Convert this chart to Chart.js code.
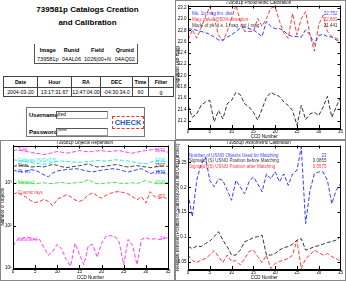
<!DOCTYPE html>
<html>
<head>
<meta charset="utf-8">
<script src="https://cdn.jsdelivr.net/npm/chart.js@4.4.1/dist/chart.umd.min.js"></script>
<style>
	body { margin: 0; width: 346px; height: 281px; background: #fff; overflow: hidden; position: relative; font-family: "Liberation Sans", Arial, sans-serif; color: #000; }
	.panel { position: absolute; box-sizing: border-box; border: 1px solid #888; }
	.panel canvas { display: block; }
	#info { position: absolute; left: 0; top: 0; width: 175px; height: 140px; }
	#info .title { position: absolute; left: 0; top: 3px; width: 175px; text-align: center; font: bold 8px/13px "Liberation Sans", Arial, sans-serif; }
	#info table { position: absolute; border-collapse: collapse; table-layout: fixed; }
	#info th, #info td { padding: 0; text-align: center; white-space: nowrap; overflow: hidden; }
	#run-table { left: 34px; top: 44px; width: 103px; border: 1px solid #555; border-top: none; font-size: 5.5px; }
	#run-table tr.head { height: 11px; }
	#run-table tr.vals { height: 8px; }
	#obs-table { left: 3px; top: 76px; width: 170px; font-size: 5.2px; }
	#obs-table th, #obs-table td { border: 1px solid #444; }
	#obs-table tr.head { height: 11px; }
	#obs-table tr.vals { height: 9px; }
	#login { position: absolute; left: 26px; top: 107px; width: 119px; height: 30px; box-sizing: border-box; border: 1px solid #777; }
	#login .lbl { position: absolute; left: 2px; font: bold 6px/8px "Liberation Sans", Arial, sans-serif; }
	#login .inp { position: absolute; left: 29px; width: 52px; height: 8px; box-sizing: border-box; border: 1px solid #999; border-top-color: #555; border-left-color: #555; font-size: 4.5px; line-height: 6px; padding-left: 1px; }
	#check { position: absolute; left: 85px; top: 8px; width: 32px; height: 13px; box-sizing: border-box; border: 1px dashed #e33; color: #2a5cc0; font: bold 7.5px/11px "Liberation Sans", Arial, sans-serif; text-align: center; }
</style>
</head>
<body>
<div id="info">
	<div class="title">739581p Catalogs Creation<br>and Calibration</div>
	<table id="run-table">
		<colgroup><col style="width:26px"><col style="width:22px"><col style="width:30px"><col style="width:25px"></colgroup>
		<tr class="head"><th>Image</th><th>Runid</th><th>Field</th><th>Qrunid</th></tr>
		<tr class="vals"><td>739581p</td><td>04AL06</td><td>1026|00+N</td><td>04AQ02</td></tr>
	</table>
	<table id="obs-table">
		<colgroup><col style="width:34px"><col style="width:34px"><col style="width:29px"><col style="width:32px"><col style="width:16px"><col style="width:25px"></colgroup>
		<tr class="head"><th>Date</th><th>Hour</th><th>RA</th><th>DEC</th><th>Time</th><th>Filter</th></tr>
		<tr class="vals"><td>2004-03-20</td><td>13:17:31.67</td><td>12:47:04.00</td><td>-04:30:34.0</td><td>60</td><td>g</td></tr>
	</table>
	<div id="login">
		<div class="lbl" style="top:3px">Username</div>
		<div class="inp" style="top:3px">fred</div>
		<div class="lbl" style="top:20px">Password</div>
		<div class="inp" style="top:20px">*****</div>
		<div id="check">CHECK</div>
	</div>
</div>

<div class="panel" style="left:175px; top:0; width:171px; height:140px;"><canvas id="chart-photo" width="169" height="138"></canvas></div>
<div class="panel" style="left:0; top:140px; width:175px; height:141px;"><canvas id="chart-objects" width="173" height="139"></canvas></div>
<div class="panel" style="left:175px; top:140px; width:171px; height:141px;"><canvas id="chart-astro" width="169" height="139"></canvas></div>

<script>
// CCD number on every x axis
const ccdNumbers = [0, 1, 2, 3, 4, 5, 6, 7, 8, 9, 10, 11, 12, 13, 14, 15, 16, 17, 18, 19, 20, 21, 22, 23, 24, 25, 26, 27, 28, 29, 30, 31, 32, 33, 34, 35];
const ccdTicks = [0, 5, 10, 15, 20, 25, 30, 35];

// photometric calibration (mag)
const magLimitMedian = [22.83, 22.82, 22.80, 22.78, 22.76, 22.73, 22.68, 22.63, 22.63, 22.68, 22.72, 22.78, 22.84, 22.85, 22.83, 22.81, 22.75, 22.69, 22.96, 22.87, 22.83, 22.83, 22.79, 22.72, 22.69, 22.69, 22.68, 22.81, 22.72, 22.55, 22.71, 22.73, 22.69, 22.68, 22.63, 22.61];
const magDetect50 = [22.63, 22.81, 22.66, 22.84, 23.04, 23.22, 23.01, 22.72, 22.61, 22.78, 23.01, 23.25, 22.96, 22.78, 22.78, 22.78, 23.01, 22.87, 23.01, 23.19, 23.22, 22.96, 22.75, 22.66, 23.10, 22.72, 23.01, 23.13, 22.72, 22.43, 22.90, 23.07, 22.78, 22.69, 22.66, 22.61];
const magPeakMode = [21.47, 21.26, 21.32, 21.47, 21.53, 21.56, 21.18, 21.38, 21.23, 21.50, 21.56, 21.70, 21.66, 21.50, 21.44, 21.35, 21.21, 21.41, 21.61, 21.70, 21.66, 21.63, 21.53, 21.47, 21.38, 21.12, 21.47, 21.22, 21.32, 21.35, 21.29, 21.44, 21.63, 21.26, 21.44, 21.61];
const magTicks = [21.2, 21.4, 21.6, 21.8, 22.0, 22.2, 22.4, 22.6, 22.8, 23.0, 23.2];
const photoLabels = ['Mu. 1\u03c3 mag lim. dist', 'Mag. value @50% detection', 'Mode of pk. (i.e. 1 mag. cut.) mag'];
const photoStats = ['22.752', '22.869', '21.441'];

// objects repartition (counts per CCD)
const countTotal = [5850, 6070, 5850, 5550, 5350, 5070, 4900, 4720, 4900, 5260, 5550, 5350, 5070, 5260, 5550, 5850, 5650, 5450, 5550, 5750, 5850, 5650, 5550, 5750, 5850, 5550, 5260, 5070, 5350, 5650, 5850, 6070, 6180, 5960, 5750, 5350];
const countGalaxies = [3550, 3430, 3310, 3190, 3080, 2970, 2870, 2770, 2870, 3080, 3250, 3310, 3250, 3190, 3140, 3080, 3140, 3190, 3310, 3430, 3370, 3310, 3430, 3550, 3490, 3430, 3310, 3190, 3030, 2920, 2870, 3080, 3310, 3430, 3310, 3140];
const countStars = [2480, 2580, 2620, 2530, 2400, 2440, 2480, 2400, 2580, 2770, 2620, 2440, 2310, 2400, 2480, 2580, 2670, 2870, 2580, 2400, 2440, 2530, 2620, 2720, 2670, 2480, 2400, 2480, 2580, 2480, 2400, 2310, 2400, 2480, 2530, 2480];
const countPointLike = [2006, 1900, 1835, 1935, 2080, 2006, 1800, 1565, 1405, 1740, 1935, 2006, 2080, 2120, 2195, 2120, 2006, 1900, 1835, 1935, 2006, 2080, 2155, 2195, 2080, 1935, 1835, 1935, 2080, 2195, 1935, 1680, 1800, 1900, 1770, 1620];
const countMasked = [982, 1000, 1018, 1018, 982, 965, 1000, 1018, 982, 982, 1018, 1036, 1000, 982, 1018, 1036, 1055, 1216, 1055, 965, 982, 1000, 1018, 1036, 1000, 982, 1000, 1018, 982, 1055, 1153, 1036, 1000, 982, 1018, 1018];
const countCosmics = [554, 596, 526, 464, 388, 349, 368, 417, 368, 292, 417, 464, 526, 481, 403, 368, 417, 526, 596, 499, 440, 517, 575, 618, 629, 596, 554, 481, 403, 481, 337, 629, 481, 432, 481, 403];
const countSaturated = [33, 47, 50, 54, 52, 47, 47, 30, 20, 25, 36, 28, 16, 11, 38, 21, 12, 33, 36, 18, 38, 56, 58, 56, 40, 12, 47, 34, 12, 47, 52, 47, 49, 47, 50, 52];
const countTicks = [10, 100, 1000];
const countLabels = ['Total', 'Galaxies (S/G<0.5)', 'Stars', 'Pt. src', 'Masked', 'Cosmic rays', 'Saturated'];
const countStats = ['5573', '3215', '2507', '1939', '1013', '457', '34'];

// astrometric calibration (arcsec)
const usnoMatched = [0.187, 0.141, 0.214, 0.247, 0.261, 0.214, 0.201, 0.217, 0.214, 0.194, 0.174, 0.214, 0.201, 0.187, 0.211, 0.221, 0.207, 0.191, 0.227, 0.217, 0.231, 0.211, 0.227, 0.204, 0.227, 0.234, 0.281, 0.127, 0.194, 0.227, 0.231, 0.231, 0.214, 0.167, 0.194, 0.207];
const residBefore = [0.081, 0.077, 0.082, 0.081, 0.087, 0.092, 0.101, 0.111, 0.094, 0.081, 0.064, 0.064, 0.074, 0.091, 0.094, 0.099, 0.101, 0.104, 0.064, 0.064, 0.067, 0.074, 0.079, 0.081, 0.086, 0.094, 0.097, 0.074, 0.077, 0.081, 0.083, 0.086, 0.089, 0.091, 0.094, 0.101];
const residAfter = [0.064, 0.053, 0.049, 0.054, 0.057, 0.064, 0.073, 0.061, 0.049, 0.064, 0.051, 0.053, 0.044, 0.057, 0.071, 0.074, 0.061, 0.049, 0.064, 0.037, 0.047, 0.051, 0.054, 0.057, 0.064, 0.094, 0.037, 0.057, 0.064, 0.074, 0.069, 0.064, 0.067, 0.061, 0.057, 0.051];
const astroTicks = [0.05, 0.1, 0.15, 0.2, 0.25];
const astroLabels = ['Number of USNO Objects Used for Matching', 'Sigma[d] (S) USNO Position before Matching', 'Sigma[d] (S) USNO Position after Matching'];
const astroStats = ['23', '0.0855', '0.0575'];

const FONT = '"Liberation Sans", Arial, sans-serif';
const SUPERSCRIPT = { 1: '\u00b9', 2: '\u00b2', 3: '\u00b3', 4: '\u2074' };

Chart.defaults.font.family = FONT;
Chart.defaults.color = '#000';

// box around the plot with inward ticks on all sides (pgplot look)
const frameTicksPlugin = {
	id: 'frameTicks',
	afterDatasetsDraw(chart) {
		const { ctx, chartArea: a, scales } = chart;
		ctx.save();
		ctx.strokeStyle = '#000';
		ctx.lineWidth = 1;
		ctx.strokeRect(Math.round(a.left) + 0.5, Math.round(a.top) + 0.5, Math.round(a.right - a.left), Math.round(a.bottom - a.top));
		ctx.beginPath();
		scales.x.ticks.forEach(t => {
			const px = Math.round(scales.x.getPixelForValue(t.value)) + 0.5;
			ctx.moveTo(px, a.bottom); ctx.lineTo(px, a.bottom - 3);
			ctx.moveTo(px, a.top); ctx.lineTo(px, a.top + 3);
		});
		scales.y.ticks.forEach(t => {
			const py = Math.round(scales.y.getPixelForValue(t.value)) + 0.5;
			ctx.moveTo(a.left, py); ctx.lineTo(a.left + 3, py);
			ctx.moveTo(a.right, py); ctx.lineTo(a.right - 3, py);
		});
		ctx.stroke();
		ctx.restore();
	}
};

// series names on the left, summary values on the right
const seriesTextPlugin = {
	id: 'seriesText',
	afterDatasetsDraw(chart, args, opts) {
		const { ctx, chartArea: a } = chart;
		ctx.save();
		ctx.font = `${opts.size}px ${FONT}`;
		ctx.textBaseline = 'middle';
		chart.data.datasets.forEach((ds, i) => {
			const pts = chart.getDatasetMeta(i).data;
			const yLeft = opts.mode === 'line' ? pts[1].y : a.top + opts.top + i * opts.step;
			const yRight = opts.mode === 'line' ? pts[pts.length - 2].y : yLeft;
			ctx.fillStyle = ds.borderColor;
			ctx.textAlign = 'left';
			ctx.fillText(ds.label, a.left + opts.left, yLeft);
			ctx.textAlign = 'right';
			ctx.fillText(opts.stats[i], a.right - opts.right, yRight);
		});
		ctx.restore();
	}
};

const ReportPage = {
	charts: {},

	init: function() {
		this.renderPhotometry();
		this.renderObjects();
		this.renderAstrometry();
	},

	toPoints: (values) => values.map((v, i) => ({ x: ccdNumbers[i], y: v })),

	lineDataset: function(label, values, color) {
		return {
			label: label,
			data: this.toPoints(values),
			borderColor: color,
			borderWidth: 1,
			borderDash: [4, 2],
			pointRadius: 0,
			tension: 0,
			fill: false
		};
	},

	// axes with fixed box sizes so the plot boxes land where the originals are
	getScales: function(y) {
		const small = { size: 4.5, lineHeight: 1 };
		return {
			x: {
				type: 'linear',
				min: 0,
				max: 35,
				afterBuildTicks: (axis) => { axis.ticks = ccdTicks.map(v => ({ value: v })); },
				afterFit: (axis) => { axis.height = y.xHeight; },
				ticks: { font: small, padding: 2, maxRotation: 0, autoSkip: false },
				grid: { drawOnChartArea: false, drawTicks: false },
				border: { color: '#000' },
				title: { display: true, text: 'CCD Number', font: small, padding: 0 }
			},
			y: {
				type: y.type,
				min: y.min,
				max: y.max,
				afterBuildTicks: (axis) => { axis.ticks = y.ticks.map(v => ({ value: v })); },
				afterFit: (axis) => { axis.width = y.width; },
				ticks: { font: small, padding: 1.5, autoSkip: false, callback: y.format },
				grid: { drawOnChartArea: false, drawTicks: false },
				border: { color: '#000' },
				title: { display: true, text: y.title, font: small, padding: 0 }
			}
		};
	},

	getOptions: function(titleText, y, textOpts) {
		return {
			responsive: false,
			animation: false,
			devicePixelRatio: 1,
			layout: { padding: { top: 0, right: y.right, bottom: 0, left: 0 } },
			scales: this.getScales(y),
			plugins: {
				legend: { display: false },
				tooltip: { enabled: false },
				title: { display: true, text: titleText, font: { size: 4.5, lineHeight: 1, weight: 'normal' }, padding: 0, color: '#000' },
				seriesText: textOpts
			}
		};
	},

	renderPhotometry: function() {
		this.charts.photo = new Chart(document.getElementById('chart-photo'), {
			type: 'line',
			data: {
				datasets: [
					this.lineDataset(photoLabels[0], magLimitMedian, '#3a3aff'),
					this.lineDataset(photoLabels[1], magDetect50, '#ff3a3a'),
					this.lineDataset(photoLabels[2], magPeakMode, '#333')
				]
			},
			options: this.getOptions('739581p Photometric Calibration', {
				type: 'linear', min: 21.07, max: 23.24, ticks: magTicks,
				format: (v) => v.toFixed(1), title: 'Magnitude (AB mag)',
				width: 12, xHeight: 11, right: 4
			}, { mode: 'stack', size: 4.5, top: 8, step: 6, left: 4, right: 3, stats: photoStats }),
			plugins: [frameTicksPlugin, seriesTextPlugin]
		});
	},

	renderObjects: function() {
		this.charts.objects = new Chart(document.getElementById('chart-objects'), {
			type: 'line',
			data: {
				datasets: [
					this.lineDataset(countLabels[0], countTotal, '#ff3aff'),
					this.lineDataset(countLabels[1], countGalaxies, '#2ee6e6'),
					this.lineDataset(countLabels[2], countStars, '#444'),
					this.lineDataset(countLabels[3], countPointLike, '#3a3aff'),
					this.lineDataset(countLabels[4], countMasked, '#3ae63a'),
					this.lineDataset(countLabels[5], countCosmics, '#ff3a3a'),
					this.lineDataset(countLabels[6], countSaturated, '#ff3aff')
				]
			},
			options: this.getOptions('739581p Objects Repartition', {
				type: 'logarithmic', min: 10, max: 7700, ticks: countTicks,
				format: (v) => '10' + SUPERSCRIPT[Math.round(Math.log10(v))], title: 'Number of Objects',
				width: 12, xHeight: 12, right: 6
			}, { mode: 'line', size: 4.5, left: 5, right: 3, stats: countStats }),
			plugins: [frameTicksPlugin, seriesTextPlugin]
		});
	},

	renderAstrometry: function() {
		this.charts.astro = new Chart(document.getElementById('chart-astro'), {
			type: 'line',
			data: {
				datasets: [
					this.lineDataset(astroLabels[0], usnoMatched, '#3a3aff'),
					this.lineDataset(astroLabels[1], residBefore, '#333'),
					this.lineDataset(astroLabels[2], residAfter, '#ff3a3a')
				]
			},
			options: this.getOptions('739581p Astrometric Calibration', {
				type: 'linear', min: 0.036, max: 0.284, ticks: astroTicks,
				format: (v) => String(v), title: 'Residual between Position of Sources(USNO and Obs) (arcsec)',
				width: 12, xHeight: 11, right: 4
			}, { mode: 'stack', size: 4.5, top: 10, step: 5.5, left: 1, right: 14, stats: astroStats }),
			plugins: [frameTicksPlugin, seriesTextPlugin]
		});
	}
};

ReportPage.init();
</script>
</body>
</html>
